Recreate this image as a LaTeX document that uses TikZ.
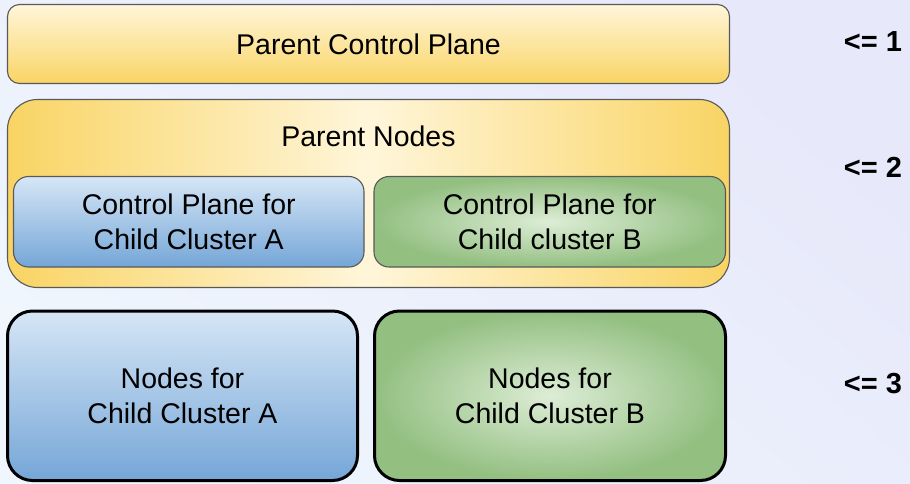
\documentclass[tikz,border=0pt]{standalone}
\usepackage{fontspec}
\setmainfont{Liberation Sans}
\begin{document}
\begin{tikzpicture}[x=1pt,y=-1pt,
  boxtext/.style={font=\fontsize{28.5}{35}\selectfont, align=center, text=black},
  thinbox/.style={draw=black!65, line width=1.1pt, inner sep=0pt, boxtext},
  thickbox/.style={draw=black, line width=3pt, inner sep=0pt, boxtext, rounded corners=25pt},
  goldv/.style={top color=goldL, bottom color=goldD},
  goldh/.style={left color=goldD, right color=goldD, middle color=goldL},
  bluev/.style={top color=blueL, bottom color=blueD},
  greenr/.style={inner color=greenL, outer color=greenD},
  levellabel/.style={font=\bfseries\fontsize{29}{34}\selectfont, text=black, inner sep=0pt}
]
\definecolor{goldL}{HTML}{FFF6DA}
\definecolor{goldD}{HTML}{F9D464}
\definecolor{blueL}{HTML}{D6E6F6}
\definecolor{blueD}{HTML}{75A6D7}
\definecolor{greenL}{HTML}{DDEDD6}
\definecolor{greenD}{HTML}{93BF81}
\definecolor{bgLav}{HTML}{E7E8FA}
\definecolor{bgBlue}{HTML}{EFF6FD}
% background
\shade[shading=axis, top color=bgLav, bottom color=bgBlue, shading angle=-40] (0,0) rectangle (910,483);
\useasboundingbox (0,0) rectangle (910,483);
% level 1
\node[thinbox, goldv, rounded corners=12pt, minimum width=722pt, minimum height=79pt] (pcp) at (368.5,44) {Parent Control Plane};
% level 2
\node[thinbox, goldh, rounded corners=30pt, minimum width=722pt, minimum height=188pt] (pnodes) at (368.5,193.5) {};
\node[boxtext, anchor=base] (pnodestitle) at (368.5,146.5) {Parent Nodes};
\node[thinbox, bluev, rounded corners=15pt, minimum width=350.5pt, minimum height=90.5pt] (cpA) at (188.75,221.75) {Control Plane for\\Child Cluster A};
\node[thinbox, greenr, rounded corners=15pt, minimum width=351.5pt, minimum height=90.5pt] (cpB) at (549.75,221.75) {Control Plane for\\Child cluster B};
% level 3
\node[thickbox, bluev, minimum width=350pt, minimum height=169.5pt] (nA) at (182.5,395.75) {Nodes for\\Child Cluster A};
\node[thickbox, greenr, minimum width=351pt, minimum height=169.5pt] (nB) at (550,395.75) {Nodes for\\Child Cluster B};
% level labels
\node[levellabel] (lab1) at (873,42) {<= 1};
\node[levellabel] (lab2) at (873,167) {<= 2};
\node[levellabel] (lab3) at (873,384) {<= 3};
\end{tikzpicture}
\end{document}
